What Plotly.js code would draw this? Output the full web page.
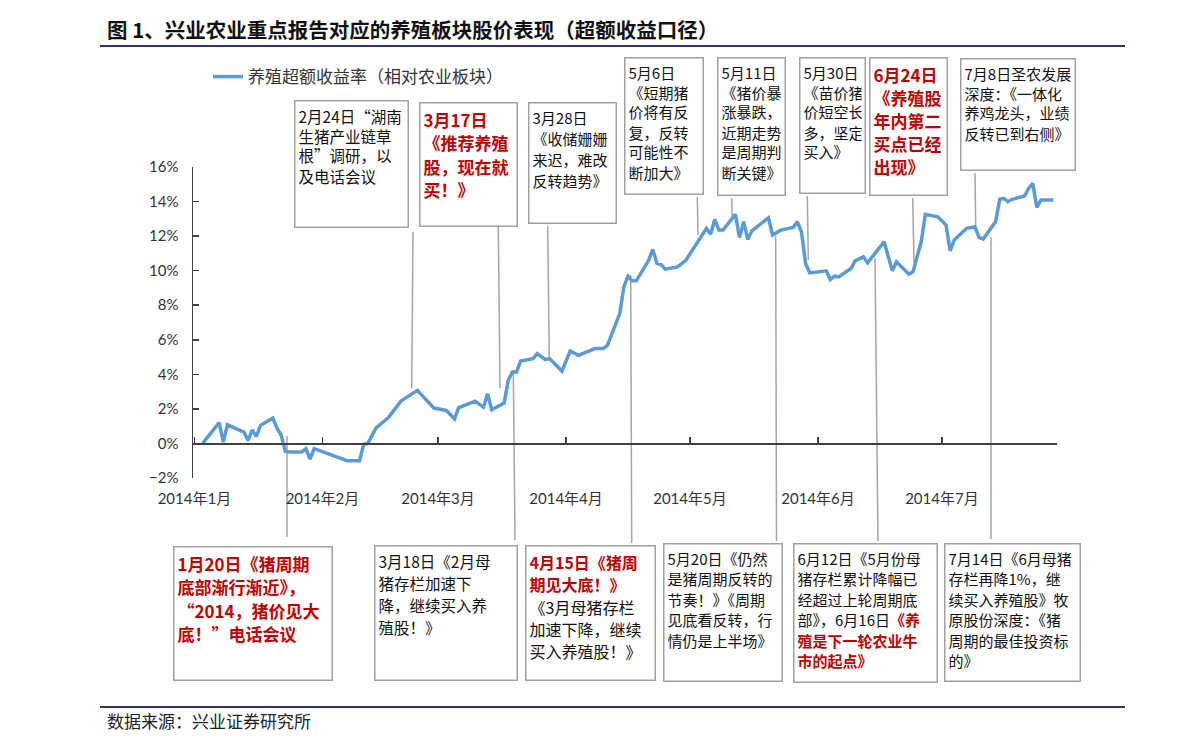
<!DOCTYPE html>
<html>
<head>
<meta charset="utf-8">
<script src="https://cdn.plot.ly/plotly-3.0.1.min.js"></script>
<style>
    html, body { margin: 0; padding: 0; background: #fff; }
    #chart { width: 1191px; height: 752px; }
</style>
</head>
<body>
<div id="chart"></div>
<script>
"use strict";

// 养殖超额收益率（相对农业板块），单位 %
const tradeDates = [
    "2014-01-03", "2014-01-07", "2014-01-08", "2014-01-09", "2014-01-13",
    "2014-01-14", "2014-01-15", "2014-01-16", "2014-01-17", "2014-01-20",
    "2014-01-21", "2014-01-22", "2014-01-23", "2014-01-24", "2014-01-27",
    "2014-01-28", "2014-01-29", "2014-01-30",
    "2014-02-07", "2014-02-10", "2014-02-11", "2014-02-12", "2014-02-14",
    "2014-02-17", "2014-02-20", "2014-02-24", "2014-02-28",
    "2014-03-03", "2014-03-05", "2014-03-06", "2014-03-10", "2014-03-12",
    "2014-03-13", "2014-03-14", "2014-03-17", "2014-03-18", "2014-03-19",
    "2014-03-20", "2014-03-21", "2014-03-24", "2014-03-25", "2014-03-27",
    "2014-03-28", "2014-03-31",
    "2014-04-02", "2014-04-04", "2014-04-08", "2014-04-10", "2014-04-11",
    "2014-04-14", "2014-04-15", "2014-04-16", "2014-04-17", "2014-04-18",
    "2014-04-21", "2014-04-22", "2014-04-23", "2014-04-24", "2014-04-25",
    "2014-04-28", "2014-04-30",
    "2014-05-05", "2014-05-06", "2014-05-07", "2014-05-08", "2014-05-09",
    "2014-05-12", "2014-05-13", "2014-05-14", "2014-05-15", "2014-05-16",
    "2014-05-20", "2014-05-21", "2014-05-23", "2014-05-26", "2014-05-27",
    "2014-05-28", "2014-05-29", "2014-05-30",
    "2014-06-03", "2014-06-04", "2014-06-05", "2014-06-06", "2014-06-09",
    "2014-06-10", "2014-06-12", "2014-06-13", "2014-06-14", "2014-06-17",
    "2014-06-19", "2014-06-20", "2014-06-23", "2014-06-24", "2014-06-26",
    "2014-06-27", "2014-06-30",
    "2014-07-02", "2014-07-03", "2014-07-04", "2014-07-07", "2014-07-09",
    "2014-07-10", "2014-07-11", "2014-07-14", "2014-07-15", "2014-07-16",
    "2014-07-17", "2014-07-18", "2014-07-21", "2014-07-22", "2014-07-23",
    "2014-07-24", "2014-07-25", "2014-07-28",
];

const excessReturn = [
    0.0, 1.2, 0.08, 1.08, 0.66,
    0.17, 0.79, 0.4, 1.04, 1.47,
    0.88, 0.5, -0.45, -0.5, -0.5,
    -0.3, -0.9, -0.3,
    -1.0, -1.0, -0.05, 0.0, 0.9,
    1.5, 2.45, 3.07, 2.05,
    1.91, 1.43, 2.07, 2.45, 2.1,
    2.88, 1.95, 2.34, 3.65, 4.13,
    4.13, 4.77, 4.91, 5.2, 4.85,
    4.91, 4.19,
    5.35, 5.1, 5.49, 5.49, 5.68,
    7.52, 9.06, 9.68, 9.41, 9.41,
    10.6, 11.23, 10.42, 10.36, 10.09,
    10.22, 10.6,
    12.45, 12.1, 12.97, 12.35, 12.35,
    13.26, 11.92, 12.83, 11.81, 12.31,
    13.06, 12.06, 12.35, 12.5, 12.83,
    12.25, 10.42, 9.87,
    9.99, 9.49, 9.68, 9.64, 10.13,
    10.57, 10.8, 10.45, 10.77, 11.67,
    9.99, 10.51, 9.8, 9.93, 11.67,
    13.26, 13.12,
    12.64, 11.15, 11.77, 12.45, 12.54,
    11.92, 11.83, 12.83, 14.13, 14.18,
    13.99, 14.13, 14.32, 14.76, 15.05,
    13.66, 14.09, 14.09,
];

const monthTicks = [
    "2014-01-01", "2014-02-01", "2014-03-01", "2014-04-01",
    "2014-05-01", "2014-06-01", "2014-07-01",
];
const monthLabels = [
    "2014年1月", "2014年2月", "2014年3月", "2014年4月",
    "2014年5月", "2014年6月", "2014年7月",
];

const seriesName = "养殖超额收益率（相对农业板块）";
const chartTitle = "图 1、兴业农业重点报告对应的养殖板块股价表现（超额收益口径）";
const sourceNote = "数据来源：兴业证券研究所";

const yMin = -2;
const yMax = 16;

const FONT = "'Noto Sans CJK SC', 'Noto Sans', sans-serif";
const NUM_FONT = "Lato, 'Noto Sans CJK SC', sans-serif";
const RED = "#C00000";

// plot area in page pixels
const M = { l: 193, r: 134, t: 167, b: 274 };
const PW = 1191 - M.l - M.r;
const PH = 752 - M.t - M.b;
const px = (X) => (X - M.l) / PW;
const py = (Y) => (752 - M.b - Y) / PH;

const RED_TAG = "\u0001";
const red = (lines) => lines.map((s) => RED_TAG + s);

// report call-outs: box rect [left, top, right, bottom], glyph size,
// line pitch, leader [x1, y1, x2, y2]
const notes = [
    { rect: [294, 100, 409, 228], size: 15.5, pitch: 20,
      lines: ["2月24日“湖南", "生猪产业链草", "根”调研，以", "及电话会议"],
      lead: [413, 232, 411.7, 388] },
    { rect: [419, 102, 518, 227], size: 17, pitch: 23.5,
      lines: red(["3月17日", "《推荐养殖", "股，现在就", "买！》"]),
      lead: [498.3, 227, 500, 388] },
    { rect: [528, 102, 617, 224], size: 15, pitch: 21,
      lines: ["3月28日", "《收储姗姗", "来迟，难改", "反转趋势》"],
      lead: [547.7, 226, 549.3, 357] },
    { rect: [624, 57, 704, 195], size: 15, pitch: 20,
      lines: ["5月6日", "《短期猪", "价将有反", "复，反转", "可能性不", "断加大》"],
      lead: [697.3, 197, 698, 235] },
    { rect: [717, 57, 786, 196], size: 15, pitch: 20,
      lines: ["5月11日", "《猪价暴", "涨暴跌，", "近期走势", "是周期判", "断关键》"],
      lead: [731.7, 198, 732.3, 218] },
    { rect: [799, 57, 866, 194], size: 15, pitch: 20,
      lines: ["5月30日", "《苗价猪", "价短空长", "多，坚定", "买入》"],
      lead: [807.3, 196, 808.3, 260] },
    { rect: [869, 57, 948, 196], size: 17, pitch: 23,
      lines: red(["6月24日", "《养殖股", "年内第二", "买点已经", "出现》"]),
      lead: [912.7, 198, 914, 263] },
    { rect: [960, 58, 1076, 171], size: 15, pitch: 20,
      lines: ["7月8日圣农发展", "深度：《一体化", "养鸡龙头，业绩", "反转已到右侧》"],
      lead: [975, 173, 975.7, 225] },
    { rect: [173, 546, 333, 681], size: 17, pitch: 23.5,
      lines: red(["1月20日《猪周期", "底部渐行渐近》，", "“2014，猪价见大", "底！”电话会议"]),
      lead: [287, 436, 287, 537] },
    { rect: [374, 545, 518, 681], size: 15.5, pitch: 22,
      lines: ["3月18日《2月母", "猪存栏加速下", "降，继续买入养", "殖股！》"],
      lead: [513.3, 370, 515, 540] },
    { rect: [525, 545, 656, 681], size: 16, pitch: 22.5,
      lines: red(["4月15日《猪周", "期见大底！》"]).concat(
          ["《3月母猪存栏", "加速下降，继续", "买入养殖股！》"]),
      lead: [630.7, 275, 631.7, 543] },
    { rect: [663, 543, 783, 682], size: 15, pitch: 20.5,
      lines: ["5月20日《仍然", "是猪周期反转的", "节奏！》《周期", "见底看反转，行", "情仍是上半场》"],
      lead: [775.7, 236, 776.5, 541] },
    { rect: [793, 543, 938, 683], size: 15, pitch: 20.5,
      lines: ["6月12日《5月份母", "猪存栏累计降幅已", "经超过上轮周期底",
              ["部》，6月16日", "《养"]].concat(
          red(["殖是下一轮农业牛", "市的起点》"])),
      lead: [875, 258, 878, 541] },
    { rect: [944, 543, 1081, 682], size: 15, pitch: 20.5,
      lines: ["7月14日《6月母猪", "存栏再降1%，继", "续买入养殖股》牧", "原股份深度：《猪", "周期的最佳投资标", "的》"],
      lead: [991, 237, 991, 539] },
];

const BW = 1.5;
const PAD = 3;

const redSpan = (s, size) =>
    `<b><span style="color:${RED};font-size:${size}px">${s}</span></b>`;
const plainSpan = (s, size) =>
    `<span style="font-size:${size}px">${s}</span>`;

const lineHtml = (line, size) => {
    if (Array.isArray(line)) {
        // plain lead-in followed by a red bold tail
        return plainSpan(line[0], size) + redSpan(line[1], size);
    }
    if (line.startsWith(RED_TAG)) {
        return redSpan(line.slice(1), size);
    }
    return plainSpan(line, size);
};

const annotations = notes.map((n) => {
    const [l, t, r, b] = n.rect;
    return {
        xref: "paper", yref: "paper",
        x: px(l), y: py(t),
        xanchor: "left", yanchor: "top",
        width: r - l - 2 * (BW + PAD),
        height: b - t - 2 * (BW + PAD),
        align: "left", valign: "top",
        showarrow: false,
        text: n.lines.map((s) => lineHtml(s, n.size)).join("<br>"),
        font: { family: FONT, size: n.pitch / 1.3, color: "#111" },
        bgcolor: "#fff",
        bordercolor: "#A0A0A0",
        borderwidth: BW,
        borderpad: PAD,
    };
});

annotations.push({
    xref: "paper", yref: "paper",
    x: px(105), y: py(720),
    xanchor: "left", yanchor: "middle",
    showarrow: false,
    text: sourceNote,
    font: { family: FONT, size: 17, color: "#222" },
});

const shapes = notes.map((n) => ({
    type: "line", layer: "below",
    xref: "paper", yref: "paper",
    x0: px(n.lead[0]), y0: py(n.lead[1]),
    x1: px(n.lead[2]), y1: py(n.lead[3]),
    line: { color: "#A6A6A6", width: 1.5 },
}));

// title rule and source rule
[46, 707].forEach((Y) => {
    shapes.push({
        type: "line", layer: "above",
        xref: "paper", yref: "paper",
        x0: px(100), x1: px(1125), y0: py(Y), y1: py(Y),
        line: { color: "#2F3471", width: 2 },
    });
});

const traces = [{
    type: "scatter",
    mode: "lines",
    name: seriesName,
    x: tradeDates,
    y: excessReturn,
    line: { color: "#5B9BD5", width: 3.5 },
    hoverinfo: "x+y",
}];

const layout = {
    width: 1191,
    height: 752,
    margin: M,
    paper_bgcolor: "#fff",
    plot_bgcolor: "#fff",
    font: { family: FONT, color: "#222" },
    title: {
        text: `<b>${chartTitle}</b>`,
        xref: "container", yref: "container",
        x: 107 / 1191, xanchor: "left",
        y: 1 - 31 / 752, yanchor: "middle",
        font: { family: FONT, size: 20.5, color: "#111" },
    },
    showlegend: true,
    legend: {
        orientation: "h",
        xref: "paper", yref: "paper",
        x: px(208), xanchor: "left",
        y: py(77), yanchor: "middle",
        font: { family: FONT, size: 17, color: "#333" },
        bgcolor: "rgba(0,0,0,0)",
    },
    xaxis: {
        type: "date",
        range: ["2013-12-31 16:00", "2014-07-28 21:00"],
        anchor: "free",
        position: (0 - yMin) / (yMax - yMin),
        showgrid: false,
        zeroline: false,
        showline: true,
        linecolor: "#404040",
        linewidth: 1.5,
        ticks: "inside",
        ticklen: 6,
        tickwidth: 1.5,
        tickcolor: "#404040",
        tickmode: "array",
        tickvals: monthTicks,
        ticktext: monthLabels,
        ticklabelstandoff: 41,
        tickfont: { family: NUM_FONT, size: 15, color: "#333" },
        fixedrange: true,
    },
    yaxis: {
        range: [yMin, yMax],
        dtick: 2,
        ticksuffix: "%",
        showgrid: false,
        zeroline: false,
        showline: true,
        linecolor: "#404040",
        linewidth: 1.5,
        ticks: "inside",
        ticklen: 6,
        tickwidth: 1.5,
        tickcolor: "#404040",
        ticklabelstandoff: 10,
        tickfont: { family: NUM_FONT, size: 15, color: "#333" },
        fixedrange: true,
    },
    annotations: annotations,
    shapes: shapes,
};

Plotly.newPlot("chart", traces, layout, {
    displayModeBar: false,
    staticPlot: true,
});
</script>
</body>
</html>
